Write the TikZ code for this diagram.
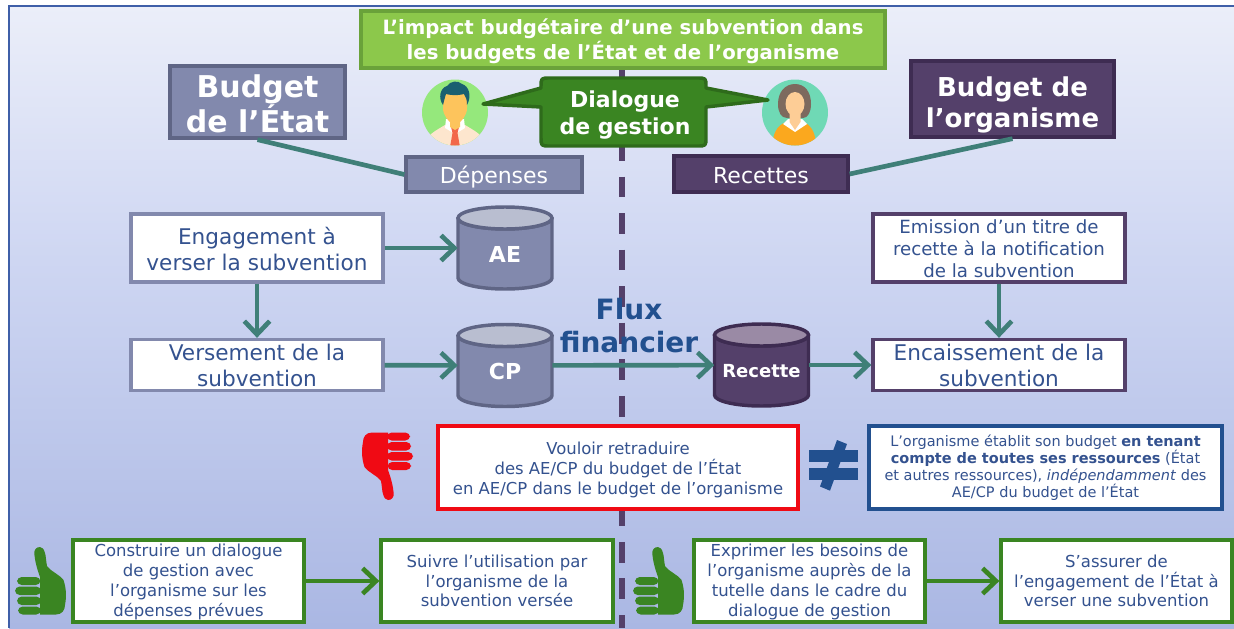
\documentclass[tikz,border=0pt]{standalone}
\usepackage{fontspec}
\setmainfont{DejaVu Sans}
\usetikzlibrary{arrows.meta,shadings}
\def\u{0.75pt}
\newcommand{\fsz}[2]{\fontsize{\the\dimexpr #1pt*3/4\relax}{\the\dimexpr #2pt*3/4\relax}\selectfont}
\newcommand{\topup}[1]{\rule{0pt}{\the\dimexpr #1pt*3/4\relax}}
\definecolor{txt}{HTML}{34528F}
\definecolor{flux}{HTML}{22508F}
\definecolor{slate}{HTML}{8289AD}
\definecolor{slateb}{HTML}{5F6585}
\definecolor{slatetop}{HTML}{B9BED0}
\definecolor{plum}{HTML}{54406A}
\definecolor{plumb}{HTML}{3E2C52}
\definecolor{plumtop}{HTML}{9A8AA5}
\definecolor{teal2}{HTML}{3F7F78}
\definecolor{leaf}{HTML}{8CC84B}
\definecolor{leafb}{HTML}{6AA23A}
\definecolor{grn}{HTML}{3A8522}
\definecolor{grnb}{HTML}{2E6B1B}
\definecolor{redd}{HTML}{F00A14}
\definecolor{bgtop}{HTML}{EBEEF9}
\definecolor{bgmid}{HTML}{CED6F2}
\definecolor{bgbot}{HTML}{AAB7E3}
\definecolor{frame}{HTML}{3F5FA8}
\definecolor{manbg}{HTML}{95E87C}
\definecolor{skinpale}{HTML}{FDE6CE}
\definecolor{tie}{HTML}{F2674A}
\definecolor{face}{HTML}{FDC45C}
\definecolor{hairm}{HTML}{1A5F70}
\definecolor{womanbg}{HTML}{6FD9B5}
\definecolor{hairw}{HTML}{7D6A5E}
\definecolor{dress}{HTML}{FBA81E}
\definecolor{neck}{HTML}{FDCD96}
% name, centre x, centre y, body colour, border colour, top colour, text
\newcommand{\can}[7]{%
  \draw[fill=#4,draw=#5,line width=2.6pt,line join=round]
    (#2-47,#3-30) -- (#2-47,#3+30) arc[start angle=180,end angle=0,x radius=47,y radius=11]
    -- (#2+47,#3-30) arc[start angle=0,end angle=180,x radius=47,y radius=11] -- cycle;
  \draw[fill=#6,draw=#5,line width=2.6pt] (#2,#3-30) ellipse (47 and 11);
  \node[text=white,align=center,inner sep=0pt,minimum width=94*\u,minimum height=83*\u] (#1) at (#2,#3) {#7};
}
\tikzset{
  box/.style={draw,line width=2.5pt,align=center,inner sep=0pt,text=txt,fill=white},
  slatebox/.style={box,draw=slateb,fill=slate,text=white},
  plumbox/.style={box,draw=plumb,fill=plum,text=white},
  wslate/.style={box,draw=slate},
  wplum/.style={box,draw=plum},
  wgreen/.style={box,draw=grn},
  link/.style={draw=teal2,line width=3.5pt},
  flow/.style={link,-{Straight Barb[length=10pt,width=19pt,line width=3.5pt]}},
  gflow/.style={flow,draw=grn},
  pics/thumb/.style={code={
    \fill[#1] (25,0) .. controls (21,0) and (19,3) .. (19.3,7) .. controls (20,14) and (22,22) .. (25,30) -- (25,67.5) -- (41,67.5) .. controls (47,67.5) and (50,63) .. (50,58) .. controls (51.5,50) and (51.5,42) .. (48.5,33) .. controls (44,27) and (35,24) .. (32,19) .. controls (31,14) and (31,9) .. (30,6) .. controls (29,2) and (27,0) .. (25,0) -- cycle;
    \fill[#1,rounded corners=3.5] (2,30) rectangle (25.5,38);
    \fill[#1,rounded corners=3.5] (0,39.5) rectangle (26,48);
    \fill[#1,rounded corners=3.5] (2,49.5) rectangle (26,58);
    \fill[#1,rounded corners=3.5] (3,59.5) rectangle (26,67.5);
  }}
}
\begin{document}
\begin{tikzpicture}[x=0.75pt,y=-0.75pt]
\useasboundingbox (0,0) rectangle (1234,628);
\fill[white] (0,0) rectangle (1234,628);
\shade[top color=bgtop,bottom color=bgmid] (9,6) rectangle (1234,260);
\shade[top color=bgmid,bottom color=bgbot] (9,260) rectangle (1234,628);
\draw[frame,line width=1.5pt] (9,628) -- (9,6) -- (1234,6);

% central dashed axis
\coordinate (axistop) at (622,67);
\coordinate (axisbot) at (622,628);
\draw[plum,line width=4.4pt,dash pattern=on 15.6pt off 11.8pt] (axistop) -- (axisbot);

% headers
\node[box,draw=leafb,fill=leaf,text=white,font=\bfseries\fsz{19.7}{25.5},minimum width=524*\u,minimum height=57*\u] (title) at (623,39.5)
  {\topup{19}L’impact budgétaire d’une subvention dans\\les budgets de l’État et de l’organisme};
\node[slatebox,font=\bfseries\fsz{30}{35},minimum width=175*\u,minimum height=72*\u] (bstate) at (257.5,102) {\topup{26}Budget\\de l’État};
\node[plumbox,font=\bfseries\fsz{26}{31},minimum width=203*\u,minimum height=76*\u] (borg) at (1012.5,99) {\topup{31}Budget de\\l’organisme};
\node[slatebox,font=\fsz{22}{26},minimum width=176*\u,minimum height=35*\u] (dep) at (494,174.5) {\topup{23}Dépenses};
\node[plumbox,font=\fsz{22}{26},minimum width=174*\u,minimum height=36*\u] (rec) at (761,174) {\topup{20}Recettes};
\draw[link] (bstate.south) -- (dep.west);
\draw[link] (borg.south) -- (rec.east);

% people
\begin{scope}
  \clip (455,112.5) circle (33);
  \fill[manbg] (422,79) rectangle (488,146);
  \fill[skinpale] (423,147) .. controls (425,136) and (435,131) .. (445,125) -- (465,125) .. controls (475,131) and (485,136) .. (487,147) -- cycle;
  \fill[white] (445,128) -- (455,134) -- (465,128) -- (464,119) -- (446,119) -- cycle;
  \fill[tie] (451,127) -- (459,127) -- (457.5,133) -- (460,147) -- (450,147) -- (452.5,133) -- cycle;
  \fill[face] (443,92) -- (467,92) -- (467,108) .. controls (467,116) and (461,121) .. (460,122) -- (460,127) -- (455,130) -- (450,127) -- (450,122) .. controls (449,121) and (443,116) .. (443,108) -- cycle;
  \fill[hairm] (443,105) .. controls (438,98) and (440,88) .. (447,86) .. controls (450,81) and (458,80) .. (462,84) .. controls (469,86) and (472,96) .. (467,105) .. controls (467,100) and (466,97) .. (464,94) .. controls (456,96) and (450,95) .. (446,94) .. controls (445,97) and (444,101) .. (443,105) -- cycle;
\end{scope}
\begin{scope}
  \clip (795,112.5) circle (33);
  \fill[womanbg] (762,79) rectangle (828,146);
  \fill[hairw] (787,118) .. controls (781,118) and (778,112) .. (778,104) .. controls (778,92) and (785,84) .. (795,84) .. controls (805,84) and (811,92) .. (811,104) .. controls (811,112) and (808,118) .. (803,118) -- cycle;
  \fill[dress] (772,147) .. controls (773,134) and (776,126) .. (786,122) -- (804,122) .. controls (812,126) and (816,134) .. (816,147) -- cycle;
  \fill[white] (783,124) -- (795,132) -- (807,124) -- (802,119) -- (788,119) -- cycle;
  \fill[neck] (789.5,110) -- (800.5,110) -- (800.5,122) -- (795,130) -- (789.5,122) -- cycle;
  \fill[neck] (795,104) ellipse (9.5 and 12);
\end{scope}

% dialogue bubble
\draw[fill=grn,draw=grnb,line width=2.6pt,line join=round]
  (550,78) -- (697,78) .. controls (706,78) .. (706,87) -- (706,88) -- (768,100) -- (706,107) -- (706,137) .. controls (706,146) .. (697,146) -- (550,146) .. controls (541,146) .. (541,137) -- (541,107) -- (483,104) -- (541,88) -- (541,87) .. controls (541,78) .. (550,78) -- cycle;
\node[text=white,align=center,font=\bfseries\fsz{22}{27},inner sep=0pt] (dial) at (625,115) {Dialogue\\de gestion};

% flows
\node[wslate,font=\fsz{21.6}{26},minimum width=252*\u,minimum height=68*\u] (eng) at (257,248) {\topup{19.5}Engagement à\\verser la subvention};
\node[wslate,font=\fsz{21.6}{26},minimum width=252*\u,minimum height=51*\u] (vers) at (257,365) {Versement de la\\subvention};
\node[wplum,font=\fsz{18.2}{22},minimum width=252*\u,minimum height=68*\u] (emis) at (999,248) {\topup{16}Emission d’un titre de\\recette à la notification\\de la subvention};
\node[wplum,font=\fsz{21.6}{26},minimum width=252*\u,minimum height=51*\u] (enc) at (999,365) {Encaissement de la\\subvention};
\can{ae}{505}{248}{slate}{slateb}{slatetop}{\bfseries\fsz{22}{26}\topup{28}AE}
\can{cp}{505}{365.5}{slate}{slateb}{slatetop}{\bfseries\fsz{22}{26}\topup{28}CP}
\can{recette}{761.5}{365}{plum}{plumb}{plumtop}{\bfseries\fsz{18}{22}\topup{25}Recette}
\draw[flow] (eng) -- (ae);
\draw[flow] (eng) -- (vers);
\draw[flow] (vers) -- (cp);
\draw[flow] (cp) -- (recette);
\draw[flow] (recette) -- (enc);
\draw[flow] (emis) -- (enc);
\node[text=flux,align=center,font=\bfseries\fsz{28}{33},inner sep=0pt] (fluxlab) at (629,326) {Flux\\financier};

% warning row
\pic[rotate=180] at (413,500) {thumb=redd};
\node[box,draw=redd,font=\fsz{16.45}{20},minimum width=360*\u,minimum height=83*\u] (bad) at (618,467.5) {\topup{16.5}Vouloir retraduire\\des AE/CP du budget de l’État\\en AE/CP dans le budget de l’organisme};
% not-equal sign, drawn as in the reference
\fill[flux] (809,450) rectangle (858,462);
\fill[flux] (809,468) rectangle (858,480);
\fill[flux] (837,440) -- (847,444) -- (830,490.7) -- (820,486.5) -- cycle;
\node[box,draw=flux,font=\fsz{14.5}{17},minimum width=353*\u,minimum height=83*\u] (note) at (1045.5,467.5) {L’organisme établit son budget \textbf{en tenant}\\\textbf{compte de toutes ses ressources} (État\\et autres ressources), \textit{indépendamment} des\\AE/CP du budget de l’État};

% good row
\pic at (15,547) {thumb=grn};
\pic at (633,547) {thumb=grn};
\node[wgreen,font=\fsz{16.5}{19.7},minimum width=231*\u,minimum height=82*\u] (g1) at (188.5,581) {\topup{14.5}Construire un dialogue\\de gestion avec\\l’organisme sur les\\dépenses prévues};
\node[wgreen,font=\fsz{16.5}{19.7},minimum width=232*\u,minimum height=82*\u] (g2) at (497,581) {Suivre l’utilisation par\\l’organisme de la\\subvention versée};
\node[wgreen,font=\fsz{16.5}{19.7},minimum width=231*\u,minimum height=82*\u] (g3) at (809.5,581) {\topup{14.5}Exprimer les besoins de\\l’organisme auprès de la\\tutelle dans le cadre du\\dialogue de gestion};
\node[wgreen,font=\fsz{16.5}{19.7},minimum width=231*\u,minimum height=82*\u] (g4) at (1116.5,581) {S’assurer de\\l’engagement de l’État à\\verser une subvention};
\draw[gflow] (g1) -- (g2);
\draw[gflow] (g3) -- (g4);
\end{tikzpicture}
\end{document}
